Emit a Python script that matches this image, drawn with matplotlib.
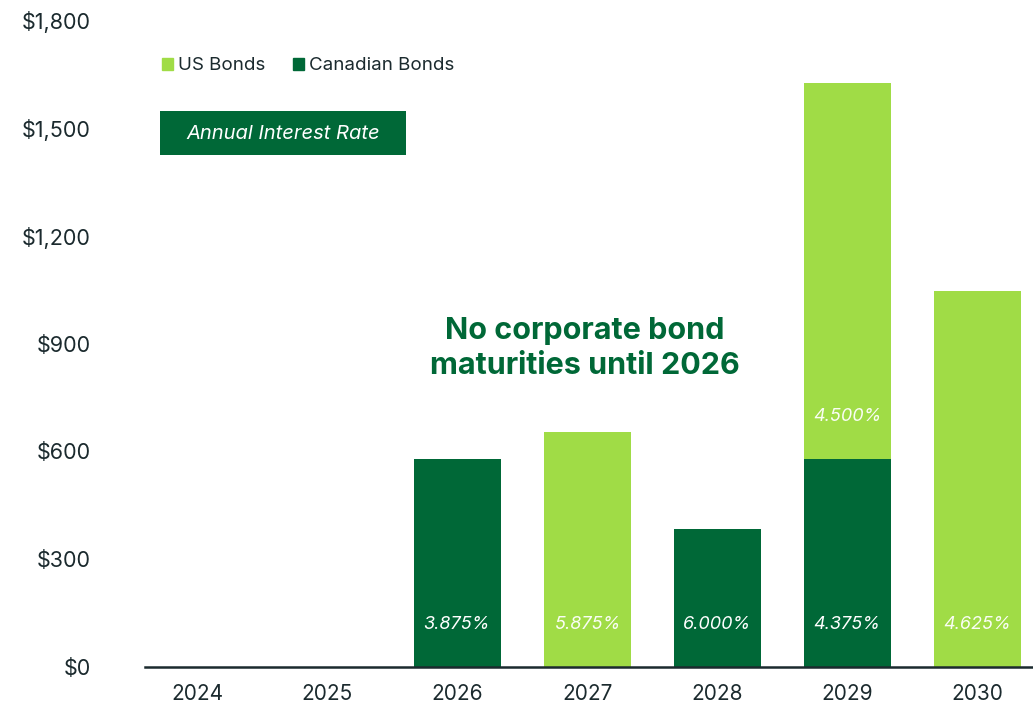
import numpy as np
import matplotlib

matplotlib.use("Agg")
import matplotlib.pyplot as plt
from matplotlib.patches import Patch

plt.rcParams["font.family"] = ["Inter", "DejaVu Sans"]

# maturities by year, $ millions
years = ["2024", "2025", "2026", "2027", "2028", "2029", "2030"]
cad_bonds = [0, 0, 579, 0, 385, 579, 0]
us_bonds = [0, 0, 0, 653, 0, 1046, 1047]
cad_rates = [np.nan, np.nan, 3.875, np.nan, 6.000, 4.375, np.nan]
us_rates = [np.nan, np.nan, np.nan, 5.875, np.nan, 4.500, 4.625]

LIGHT = "#a0dc46"
DARK = "#006837"
INK = "#1b2a2e"

fig = plt.figure(figsize=(10.33, 7.05), dpi=100)
ax = fig.add_axes([0.1404, 0.0539, 0.8596, 0.9177])

x = np.arange(len(years))
width = 0.67
ax.bar(x, cad_bonds, width, color=DARK, label="Canadian Bonds")
ax.bar(x, us_bonds, width, bottom=cad_bonds, color=LIGHT, label="US Bonds")

# rate labels sit a fixed distance above the base of each segment
offset = 117
for i in range(len(years)):
    if not np.isnan(cad_rates[i]):
        ax.text(x[i], offset, f"{cad_rates[i]:.3f}%", ha="center", va="center",
                color="white", style="italic", fontsize=13)
    if not np.isnan(us_rates[i]):
        ax.text(x[i], cad_bonds[i] + offset, f"{us_rates[i]:.3f}%", ha="center",
                va="center", color="white", style="italic", fontsize=13,
                alpha=0.95)

ax.set_xlim(-0.4, 6.43)
ax.set_ylim(0, 1800)
ax.set_yticks(np.arange(0, 1801, 300))
ax.set_yticklabels([f"${v:,.0f}" for v in np.arange(0, 1801, 300)])
ax.set_xticks(x)
ax.set_xticklabels(years)
ax.tick_params(axis="y", length=0, pad=39, labelsize=15.5, labelcolor=INK)
ax.tick_params(axis="x", length=0, pad=12, labelsize=15, labelcolor=INK)

for side in ["top", "right", "left"]:
    ax.spines[side].set_visible(False)
ax.spines["bottom"].set_color(INK)
ax.spines["bottom"].set_linewidth(1.8)

handles = [Patch(color=LIGHT, label="US Bonds"), Patch(color=DARK, label="Canadian Bonds")]
fig.legend(handles=handles, loc="center left", bbox_to_anchor=(145 / 1033, 1 - 66 / 705),
           ncol=2, frameon=False, fontsize=13.5, handlelength=0.6, handleheight=0.6,
           handletextpad=0.25, columnspacing=1.5, labelcolor=INK)

# boxed caption for the rate labels
fig.patches.append(plt.Rectangle((160 / 1033, 1 - 155 / 705), 246 / 1033, 44 / 705,
                                 transform=fig.transFigure, facecolor=DARK,
                                 edgecolor="none", zorder=0))
fig.text(283 / 1033, 1 - 134 / 705, "Annual Interest Rate", ha="center", va="center",
         color="white", style="italic", fontsize=14.5)

ax.text(2.98, 886, "No corporate bond\nmaturities until 2026", ha="center", va="center",
        color=DARK, fontsize=22, fontweight="bold", linespacing=1.3)

fig.savefig("out.png", dpi=100)
